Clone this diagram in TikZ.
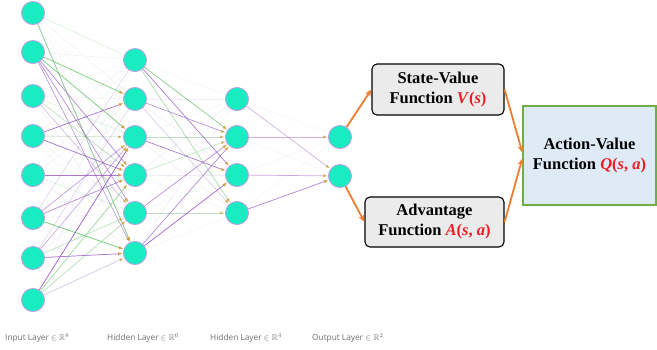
\documentclass[tikz,border=0pt]{standalone}
\usepackage{fontspec}
\usepackage{amssymb}
\setmainfont{Liberation Serif}
\newfontfamily\labfont{Open Sans}
\usetikzlibrary{arrows.meta,calc}
\definecolor{neuron}{RGB}{26,236,194}
\definecolor{neuronrim}{RGB}{195,160,235}
\definecolor{egreen}{RGB}{100,200,100}
\definecolor{epurple}{RGB}{150,80,200}
\definecolor{tipgold}{RGB}{200,160,60}
\definecolor{orangeA}{RGB}{237,125,49}
\definecolor{boxgray}{RGB}{235,235,235}
\definecolor{actblue}{RGB}{222,234,246}
\definecolor{actgreen}{RGB}{112,173,71}
\definecolor{fnred}{RGB}{235,30,35}
\definecolor{labgray}{RGB}{110,110,110}
\tikzset{
  neuronnode/.style={circle, fill=neuron, draw=neuronrim, line width=0.7pt, minimum size=23pt, inner sep=0pt},
  nnedge/.style={line width=0.7pt, -{Latex[length=4.5pt,width=3.5pt,color=tipgold]}, shorten >=0.5pt},
  faintedge/.style={line width=0.5pt},
  fnbox/.style={draw=black, fill=boxgray, rounded corners=5pt, line width=1.1pt, align=center, font=\bfseries\fontsize{16.5}{20}\selectfont, inner sep=0pt},
  actbox/.style={draw=actgreen, fill=actblue, line width=1.3pt, align=center, font=\bfseries\fontsize{16.5}{20}\selectfont, inner sep=0pt},
  orangearrow/.style={draw=orangeA, line width=1.8pt, -{Stealth[length=7pt,width=6pt]}},
  layerlabel/.style={font=\labfont\fontsize{8.3}{9}\selectfont, text=labgray, anchor=west, inner sep=0pt}
}
\newcommand{\fr}[1]{\textcolor{fnred}{#1}}
\begin{document}
\begin{tikzpicture}[x=1pt,y=-1pt]
\useasboundingbox (0,0) rectangle (657,349);
% neurons
\foreach \i/\y in {0/13,1/52,2/96,3/136,4/175,5/218,6/258,7/300}
  \node[neuronnode] (i\i) at (33,\y) {};
\foreach \i/\y in {0/60,1/99,2/137,3/175,4/213,5/253}
  \node[neuronnode] (h\i) at (135,\y) {};
\foreach \i/\y in {0/99,1/137,2/175,3/213}
  \node[neuronnode] (g\i) at (237,\y) {};
\foreach \i/\y in {0/137,1/176}
  \node[neuronnode] (o\i) at (340,\y) {};
% faint background edges
\foreach \a in {0,...,7}
  \foreach \b in {0,...,5}{
    \pgfmathsetmacro{\op}{mod(\a*7+\b*3,5)==0 ? 0.3 : 0.1}
    \pgfmathtruncatemacro{\cc}{mod(\a+\b,2)}
    \ifnum\cc=0
      \draw[faintedge, egreen, opacity=\op] (i\a) -- (h\b);
    \else
      \draw[faintedge, epurple, opacity=\op] (i\a) -- (h\b);
    \fi
  }
\foreach \a in {0,...,5}
  \foreach \b in {0,...,3}{
    \pgfmathtruncatemacro{\cc}{mod(\a+\b,2)}
    \ifnum\cc=0
      \draw[faintedge, egreen, opacity=0.12] (h\a) -- (g\b);
    \else
      \draw[faintedge, epurple, opacity=0.12] (h\a) -- (g\b);
    \fi
  }
\foreach \a in {0,...,3}
  \foreach \b in {0,1}
    \draw[faintedge, epurple, opacity=0.08] (g\a) -- (o\b);
% prominent edges
\foreach \s/\t/\c/\o in {
  i0/h5/egreen/0.7, i1/h1/egreen/0.75, i1/h2/egreen/0.85, i1/h3/epurple/0.65,
  i1/h4/epurple/0.6, i1/h5/epurple/0.55, i2/h3/egreen/0.4, i2/h4/epurple/0.35,
  i3/h1/epurple/0.8, i3/h3/epurple/0.75, i3/h2/egreen/0.25,
  i4/h3/epurple/0.75, i5/h2/epurple/0.5, i5/h3/epurple/0.65, i5/h5/egreen/0.85,
  i6/h2/epurple/0.45, i6/h5/epurple/0.8, i6/h4/egreen/0.4,
  i7/h2/epurple/0.85, i7/h3/egreen/0.6, i7/h5/epurple/0.3, i7/h4/egreen/0.45,
  h0/g1/egreen/0.75, h0/g2/epurple/0.75, h0/g3/egreen/0.45,
  h1/g1/epurple/0.6, h1/g3/epurple/0.25,
  h2/g1/egreen/0.35, h2/g2/epurple/0.75,
  h3/g1/egreen/0.3, h4/g1/epurple/0.6, h4/g3/egreen/0.35,
  h5/g1/epurple/0.65, h5/g2/epurple/0.85,
  g0/o1/epurple/0.4, g1/o0/epurple/0.4, g2/o1/epurple/0.45, g3/o1/epurple/0.7}
  \draw[nnedge, draw=\c, draw opacity=\o] (\s) -- (\t);
% neurons again on top
\foreach \y in {13,52,96,136,175,218,258,300}
  \node[neuronnode] at (33,\y) {};
\foreach \y in {60,99,137,175,213,253}
  \node[neuronnode] at (135,\y) {};
\foreach \y in {99,137,175,213}
  \node[neuronnode] at (237,\y) {};
\foreach \y in {137,176}
  \node[neuronnode] at (340,\y) {};
% boxes
\node[fnbox, minimum width=132pt, minimum height=51pt] (sv) at (438,89.5)
  {State-Value\\Function \fr{\textit{V}(\textit{s})}};
\node[fnbox, minimum width=139pt, minimum height=50pt] (adv) at (434.5,222)
  {Advantage\\Function \fr{\textit{A}(\textit{s}, \textit{a})}};
\node[actbox, minimum width=133pt, minimum height=99pt] (act) at (589.5,155.5)
  {Action-Value\\Function \fr{\textit{Q}(\textit{s}, \textit{a})}};
% orange arrows
\draw[orangearrow] (o0) -- (sv.west);
\draw[orangearrow] (o1) -- (adv.west);
\draw[orangearrow] (sv.east) -- ([yshift=3pt]act.west);
\draw[orangearrow] (adv.east) -- ([yshift=-3pt]act.west);
% layer labels
\node[layerlabel] (l1) at (5,338) {Input Layer $\in\mathbb{R}^{8}$};
\node[layerlabel] (l2) at (107,338) {Hidden Layer $\in\mathbb{R}^{6}$};
\node[layerlabel] (l3) at (210,338) {Hidden Layer $\in\mathbb{R}^{4}$};
\node[layerlabel] (l4) at (312,338) {Output Layer $\in\mathbb{R}^{2}$};
\end{tikzpicture}
\end{document}
